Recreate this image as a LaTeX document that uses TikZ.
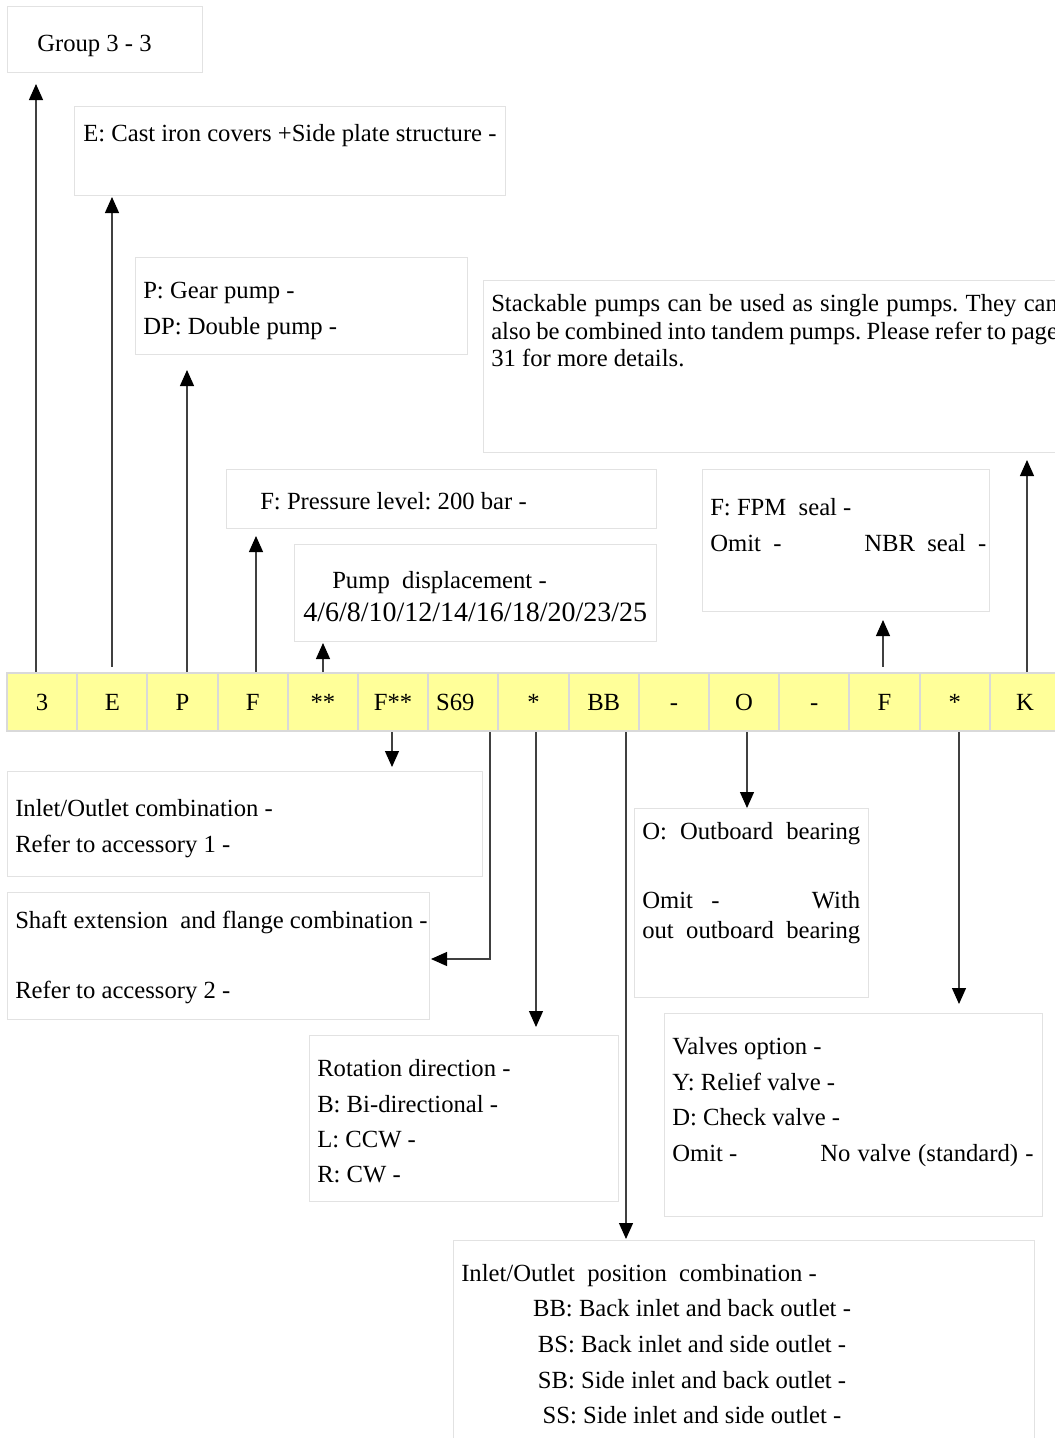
\documentclass[tikz,border=0pt]{standalone}
\usepackage{fontspec}
\setmainfont{Liberation Serif}
\usetikzlibrary{arrows.meta}
\definecolor{cellfill}{HTML}{FFFF99}
\definecolor{cellline}{HTML}{D9D9D9}
\definecolor{boxline}{HTML}{E2E2E2}
\definecolor{lineclr}{HTML}{404040}
\newcommand\fs{\fontsize{18.5pt}{22pt}\selectfont}
\newcommand\bigfs{\fontsize{21pt}{25pt}\selectfont}
\newcommand\bx[5]{\node[box,anchor=north west,minimum width={#4*0.75pt},minimum height={#5*0.75pt}] (#1) at (#2,#3) {};}
\frenchspacing
\begin{document}
\begin{tikzpicture}[x=0.75pt,y=-0.75pt,
  box/.style={draw=boxline,line width=0.75pt,inner sep=0pt,outer sep=0pt},
  cell/.style={draw=cellline,fill=cellfill,line width=1.5pt,minimum width=52.65pt,minimum height=43.5pt,inner sep=0pt,text height=12pt,text depth=0pt,font=\fs},
  txt/.style={anchor=base west,inner sep=0pt,font=\fs},
  ctxt/.style={anchor=base,inner sep=0pt,font=\fs},
  arr/.style={draw=lineclr,line width=0.9pt,-{Triangle[width=10.5pt,length=12pt,color=black]}}]
\useasboundingbox (0,0) rectangle (1054,1438);

% ---- boxes ----
\bx{bGroup}{7}{7}{195}{66}
\bx{bE}{74}{106}{431}{89}
\bx{bP}{135}{257}{332}{97}
\bx{bStack}{483}{280}{590}{172}
\bx{bF}{226}{469}{430}{59}
\bx{bPump}{294}{544}{362}{97}
\bx{bSeal}{702}{469}{287}{142}
\bx{bIO}{7}{771}{475}{105}
\bx{bShaft}{7}{892}{422}{127}
\bx{bOut}{634}{808}{234}{189}
\bx{bValve}{664}{1013}{378}{203}
\bx{bRot}{309}{1035}{309}{166}
\bx{bPos}{453}{1240}{581}{220}

% ---- code bar ----
\node[cell] (c1) at (42.1,702) {3};
\node[cell] (c2) at (112.3,702) {E};
\node[cell] (c3) at (182.5,702) {P};
\node[cell] (c4) at (252.7,702) {F};
\node[cell] (c5) at (322.9,702) {**};
\node[cell] (c6) at (393.1,702) {F**};
\node[cell] (c7) at (463.3,702) {S69\kern12pt};
\node[cell] (c8) at (533.5,702) {*};
\node[cell] (c9) at (603.7,702) {BB};
\node[cell] (c10) at (673.9,702) {-};
\node[cell] (c11) at (744.1,702) {O};
\node[cell] (c12) at (814.3,702) {-};
\node[cell] (c13) at (884.5,702) {F};
\node[cell] (c14) at (954.7,702) {*};
\node[cell] (c15) at (1024.9,702) {K};

% ---- texts ----
\node[txt] (tGroup) at (37,52) {Group 3 - 3};
\node[txt] (tE) at (83,142) {E: Cast iron covers +Side plate structure -};
\node[txt] (tP1) at (143,298) {P: Gear pump -};
\node[txt] (tP2) at (143,334) {DP: Double pump -};
\node[txt] (tS1) at (491,311) {\makebox[425pt][s]{Stackable pumps can be used as single pumps. They can}};
\node[txt] (tS2) at (491,339) {\makebox[425pt][s]{also be combined into tandem pumps. Please refer to page}};
\node[txt] (tS3) at (491,366) {31 for more details.};
\node[txt] (tF) at (260,509) {F: Pressure level: 200 bar -};
\node[txt] (tPump1) at (332,588) {Pump\ \ displacement -};
\node[txt,font=\bigfs] (tPump2) at (303,621) {4/6/8/10/12/14/16/18/20/23/25};
\node[txt] (tSeal1) at (710,515) {F: FPM\ \ seal -};
\node[txt] (tSeal2) at (710,551) {Omit\ \ -};
\node[txt] (tSeal3) at (864,551) {NBR\ \ seal\ \ -};
\node[txt] (tIO1) at (15,816) {Inlet/Outlet combination -};
\node[txt] (tIO2) at (15,852) {Refer to accessory 1 -};
\node[txt] (tSh1) at (15,928) {Shaft extension\ \ and flange combination -};
\node[txt] (tSh2) at (15,998) {Refer to accessory 2 -};
\node[txt] (tO1) at (642,839) {\makebox[163.5pt][s]{O:\ \ Outboard\ \ bearing}};
\node[txt] (tO2) at (642,908) {\makebox[163.5pt][l]{Omit\ \ \ -\hfill With}};
\node[txt] (tO3) at (642,938) {\makebox[163.5pt][s]{out\ \ outboard\ \ bearing}};
\node[txt] (tV1) at (672,1054) {Valves option -};
\node[txt] (tV2) at (672,1090) {Y: Relief valve -};
\node[txt] (tV3) at (672,1125) {D: Check valve -};
\node[txt] (tV4) at (672,1161) {Omit -};
\node[txt] (tV5) at (820,1161) {\makebox[160pt][s]{No valve (standard) -}};
\node[txt] (tR1) at (317,1076) {Rotation direction -};
\node[txt] (tR2) at (317,1112) {B: Bi-directional -};
\node[txt] (tR3) at (317,1147) {L: CCW -};
\node[txt] (tR4) at (317,1182) {R: CW -};
\node[txt] (tPos1) at (461,1281) {Inlet/Outlet\ \ position\ \ combination -};
\node[ctxt] (tPos2) at (692,1316) {BB: Back inlet and back outlet -};
\node[ctxt] (tPos3) at (692,1352) {BS: Back inlet and side outlet -};
\node[ctxt] (tPos4) at (692,1388) {SB: Side inlet and back outlet -};
\node[ctxt] (tPos5) at (692,1423) {SS: Side inlet and side outlet -};

% ---- arrow tips ----
\coordinate (aG) at (36,84);
\coordinate (aE) at (112,197);
\coordinate (aP) at (187,370);
\coordinate (aF) at (256,536);
\coordinate (aPump) at (323,643);
\coordinate (aSeal) at (883,620);
\coordinate (aStack) at (1027,460);
\coordinate (aIO) at (392,767);
\coordinate (aSh1) at (490,959);
\coordinate (aSh2) at (431,959);
\coordinate (aRot) at (536,1027);
\coordinate (aPos) at (626,1239);
\coordinate (aOut) at (747,808);
\coordinate (aVal) at (959,1004);

% ---- connectors ----
\draw[arr] (aG |- c1.north) -- (aG);
\draw[arr,shorten <=4pt] (aE |- c2.north) -- (aE);
\draw[arr] (aP |- c3.north) -- (aP);
\draw[arr] (aF |- c4.north) -- (aF);
\draw[arr] (aPump |- c5.north) -- (aPump);
\draw[arr,shorten <=4pt] (aSeal |- c13.north) -- (aSeal);
\draw[arr] (aStack |- c15.north) -- (aStack);
\draw[arr] (aIO |- c6.south) -- (aIO);
\draw[arr] (aSh1 |- c7.south) -- (aSh1) -- (aSh2);
\draw[arr] (aRot |- c8.south) -- (aRot);
\draw[arr] (aPos |- c9.south) -- (aPos);
\draw[arr] (aOut |- c11.south) -- (aOut);
\draw[arr] (aVal |- c14.south) -- (aVal);
\end{tikzpicture}
\end{document}
